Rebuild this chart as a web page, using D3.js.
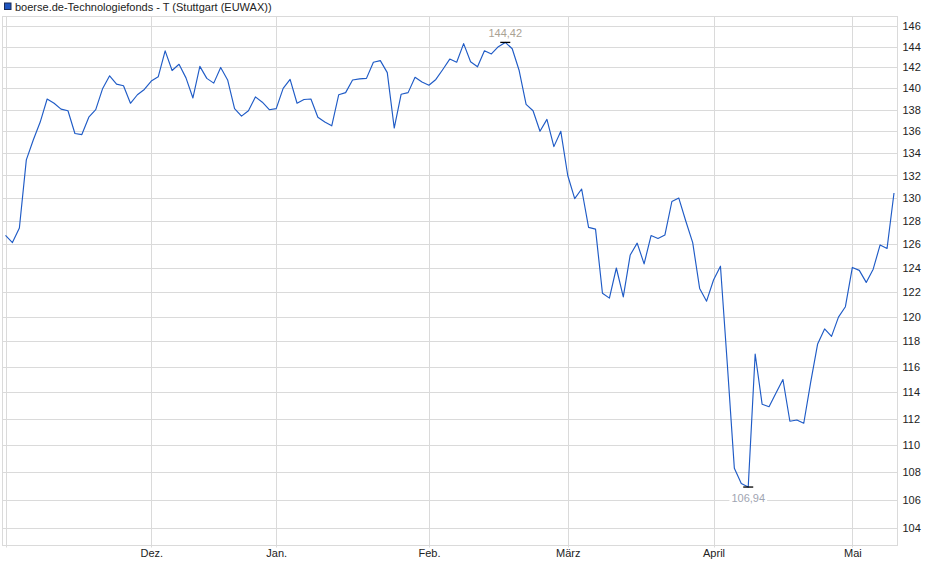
<!DOCTYPE html>
<html>
<head>
<meta charset="utf-8">
<script src="https://cdn.jsdelivr.net/npm/d3@7"></script>
<style>
  html, body { margin: 0; padding: 0; background: #fff; }
  svg { display: block; font-family: "Liberation Sans", Arial, sans-serif; }
</style>
</head>
<body>
<svg id="chart" width="940" height="579"></svg>
<script>
// ---- data (trading-day index based) ----
const title = "boerse.de-Technologiefonds - T (Stuttgart (EUWAX))";
const prices = [
  126.76, 126.15, 127.4, 133.4, 135.2, 136.85, 139.0, 138.6, 138.05, 137.9,
  135.8, 135.7, 137.3, 138.0, 140.0, 141.2, 140.4, 140.25, 138.6, 139.4,
  139.9, 140.7, 141.1, 143.6, 141.7, 142.3, 141.0, 139.1, 142.1, 140.95,
  140.5, 142.0, 140.8, 138.1, 137.4, 137.9, 139.2, 138.7, 138.0, 138.1,
  140.0, 140.85, 138.6, 138.95, 139.0, 137.3, 136.85, 136.5, 139.4, 139.6,
  140.8, 140.9, 140.95, 142.5, 142.65, 141.5, 136.3, 139.45, 139.6, 141.05,
  140.6, 140.3, 140.85, 141.8, 142.8, 142.5, 144.3, 142.55, 142.06, 143.6,
  143.3, 144.0, 144.42, 143.8, 141.7, 138.5, 137.9, 136.0, 137.1, 134.6,
  136.0, 132.0, 129.95, 130.8, 127.45, 127.3, 121.9, 121.5, 124.0, 121.6,
  125.1, 126.1, 124.35, 126.75, 126.5, 126.8, 129.7, 130.0, 128.0, 126.15,
  122.3, 121.25, 123.0, 124.15, 116.1, 108.3, 107.2, 106.94, 117.0, 113.1,
  112.9, 113.95, 115.0, 111.8, 111.9, 111.65, 114.8, 117.8, 119.0, 118.4,
  119.95, 120.8, 124.05, 123.8, 122.8, 123.9, 125.95, 125.65, 130.45
];
const monthStarts = [0, 21, 39, 61, 81, 102, 122];
const monthLabels = ["", "Dez.", "Jan.", "Feb.", "März", "April", "Mai"];
const yTicks = [104,106,108,110,112,114,116,118,120,122,124,126,128,130,132,134,136,138,140,142,144,146];
const maxLabel = "144,42";
const minLabel = "106,94";

// ---- layout ----
const plot = { left: 2.5, right: 897.5, top: 16.5, bottom: 545.5 };
const fontSize = 11;
const svg = d3.select("#chart");

const x = d3.scaleLinear().domain([0, prices.length - 1]).range([5.5, 894]);
const y = d3.scaleLog().domain([104, 146]).range([528.3, 26.3]);

const gridColor = "#dadada";

// horizontal gridlines
svg.append("g").selectAll("line").data(yTicks).join("line")
  .attr("x1", plot.left).attr("x2", plot.right)
  .attr("y1", d => Math.round(y(d)) + 0.5).attr("y2", d => Math.round(y(d)) + 0.5)
  .attr("stroke", gridColor).attr("stroke-width", 1);

// vertical month gridlines
svg.append("g").selectAll("line").data(monthStarts).join("line")
  .attr("x1", d => Math.round(x(d)) + 0.5).attr("x2", d => Math.round(x(d)) + 0.5)
  .attr("y1", plot.top).attr("y2", plot.bottom + 2)
  .attr("stroke", gridColor).attr("stroke-width", 1);

// frame
svg.append("rect")
  .attr("x", plot.left).attr("y", plot.top)
  .attr("width", plot.right - plot.left).attr("height", plot.bottom - plot.top)
  .attr("fill", "none").attr("stroke", gridColor).attr("stroke-width", 1);

// y axis (right)
const yAxis = d3.axisRight(y).tickValues(yTicks).tickFormat(d3.format("d"))
  .tickSize(0).tickPadding(5);
const gy = svg.append("g").attr("transform", `translate(${plot.right},0)`).call(yAxis);
gy.select(".domain").remove();
gy.selectAll("text").attr("font-size", fontSize).attr("fill", "#222")
  .attr("font-family", "Liberation Sans, Arial, sans-serif");

// x axis (bottom)
const xAxis = d3.axisBottom(x).tickValues(monthStarts)
  .tickFormat((d, i) => monthLabels[i]).tickSize(0).tickPadding(4);
const gx = svg.append("g").attr("transform", `translate(0,${plot.bottom})`).call(xAxis);
gx.select(".domain").remove();
gx.selectAll("text").attr("font-size", fontSize).attr("fill", "#222")
  .attr("font-family", "Liberation Sans, Arial, sans-serif");

// price line
const line = d3.line().x((d, i) => x(i)).y(d => y(d));
svg.append("path").datum(prices)
  .attr("d", line).attr("fill", "none")
  .attr("stroke", "#1f5bc6").attr("stroke-width", 1.15)
  .attr("stroke-linejoin", "round");

// max / min annotations
const maxIdx = d3.maxIndex(prices);
const minIdx = d3.minIndex(prices);

function annotate(idx, text, above, color) {
  const cx = x(idx), cy = y(prices[idx]);
  svg.append("line")
    .attr("x1", cx - 5).attr("x2", cx + 5)
    .attr("y1", cy).attr("y2", cy)
    .attr("stroke", "#000").attr("stroke-width", 1.3);
  const ty = above ? cy - 9 : cy + 11.5;
  const g = svg.append("g");
  const t = g.append("text")
    .attr("x", cx).attr("y", ty).attr("dy", "0.35em")
    .attr("text-anchor", "middle").attr("font-size", fontSize)
    .attr("fill", color).text(text);
  const bb = t.node().getBBox();
  g.insert("rect", "text")
    .attr("x", bb.x - 2).attr("y", bb.y).attr("width", bb.width + 4).attr("height", bb.height)
    .attr("fill", "#fff");
}
annotate(maxIdx, maxLabel, true, "#aaa293");
annotate(minIdx, minLabel, false, "#9fa5b2");

// legend / title
svg.append("rect").attr("x", 4.5).attr("y", 3).attr("width", 6.5).attr("height", 6.5)
  .attr("fill", "#1f55c0").attr("stroke", "#1a2a55").attr("stroke-width", 1);
svg.append("text").attr("x", 15).attr("y", 10.5)
  .attr("font-size", fontSize).attr("fill", "#222").text(title);
</script>
</body>
</html>
